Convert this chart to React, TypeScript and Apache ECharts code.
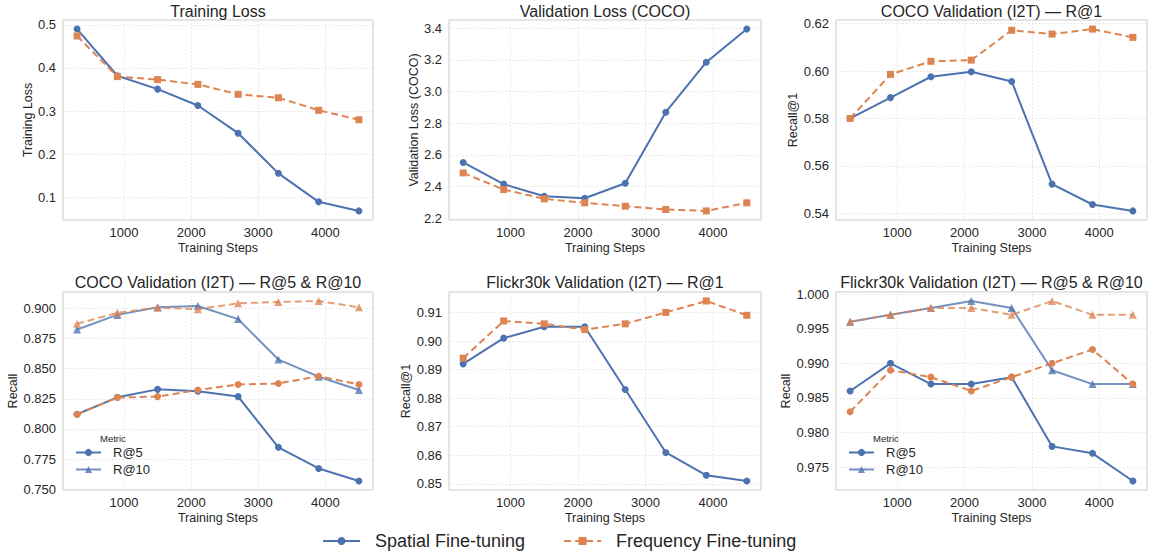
import React, { useEffect, useRef } from 'react';
import * as echarts from 'echarts';

const steps = [300, 900, 1500, 2100, 2700, 3300, 3900, 4500];
const xTicks = [1000, 2000, 3000, 4000];

const trainLossSpatial = [0.490, 0.382, 0.351, 0.313, 0.249, 0.156, 0.090, 0.069];
const trainLossFreq = [0.474, 0.380, 0.373, 0.362, 0.339, 0.331, 0.302, 0.280];
const trainTicks = [0.1, 0.2, 0.3, 0.4, 0.5];

const valLossSpatial = [2.552, 2.415, 2.339, 2.326, 2.421, 2.869, 3.185, 3.394];
const valLossFreq = [2.486, 2.381, 2.322, 2.297, 2.276, 2.255, 2.246, 2.297];
const valTicks = [2.2, 2.4, 2.6, 2.8, 3.0, 3.2, 3.4];

const cocoR1Spatial = [0.580, 0.5888, 0.5976, 0.5997, 0.5956, 0.5523, 0.5437, 0.5410];
const cocoR1Freq = [0.580, 0.5986, 0.6041, 0.6046, 0.6172, 0.6156, 0.6177, 0.6142];
const cocoR1Ticks = [0.54, 0.56, 0.58, 0.60, 0.62];

const cocoR5Spatial = [0.8122, 0.8262, 0.8328, 0.8312, 0.8268, 0.7848, 0.7673, 0.7569];
const cocoR5Freq = [0.8122, 0.8260, 0.8268, 0.8323, 0.8369, 0.8377, 0.8437, 0.8369];
const cocoR10Spatial = [0.8824, 0.8945, 0.9008, 0.9019, 0.8910, 0.8575, 0.8433, 0.8323];
const cocoR10Freq = [0.8871, 0.8962, 0.9005, 0.8992, 0.9041, 0.9052, 0.9060, 0.9008];
const cocoR510Ticks = [0.75, 0.775, 0.8, 0.825, 0.85, 0.875, 0.9];

const flickrR1Spatial = [0.892, 0.901, 0.905, 0.905, 0.883, 0.861, 0.853, 0.851];
const flickrR1Freq = [0.894, 0.907, 0.906, 0.904, 0.906, 0.910, 0.914, 0.909];
const flickrR1Ticks = [0.85, 0.86, 0.87, 0.88, 0.89, 0.90, 0.91];

const flickrR5Spatial = [0.986, 0.990, 0.987, 0.987, 0.988, 0.978, 0.977, 0.973];
const flickrR5Freq = [0.983, 0.989, 0.988, 0.986, 0.988, 0.990, 0.992, 0.987];
const flickrR10Spatial = [0.996, 0.997, 0.998, 0.999, 0.998, 0.989, 0.987, 0.987];
const flickrR10Freq = [0.996, 0.997, 0.998, 0.998, 0.997, 0.999, 0.997, 0.997];
const flickrR510Ticks = [0.975, 0.98, 0.985, 0.99, 0.995, 1.0];

const BLUE = '#4C72B0';
const ORANGE = '#DD8452';
const TEXT = '#262626';
const FONT = '"Liberation Sans", Arial, sans-serif';

function padRange(arrs: number[][]) {
  const all = arrs.flat();
  const mn = Math.min(...all);
  const mx = Math.max(...all);
  const p = (mx - mn) * 0.05;
  return [mn - p, mx + p];
}

const grids = [
  { left: 63, top: 20, width: 310, height: 200 },
  { left: 449, top: 20, width: 312, height: 200 },
  { left: 836, top: 20, width: 311, height: 200 },
  { left: 63, top: 292, width: 310, height: 198 },
  { left: 449, top: 292, width: 312, height: 198 },
  { left: 836, top: 292, width: 311, height: 198 },
];

const panels = [
  { title: 'Training Loss', yName: 'Training Loss', gap: 28, ticks: trainTicks, dec: 1, data: [trainLossSpatial, trainLossFreq] },
  { title: 'Validation Loss (COCO)', yName: 'Validation Loss (COCO)', gap: 29, ticks: valTicks, dec: 1, data: [valLossSpatial, valLossFreq] },
  { title: 'COCO Validation (I2T) — R@1', yName: 'Recall@1', gap: 36, ticks: cocoR1Ticks, dec: 2, data: [cocoR1Spatial, cocoR1Freq] },
  { title: 'COCO Validation (I2T) — R@5 & R@10', yName: 'Recall', gap: 43, ticks: cocoR510Ticks, dec: 3, data: [cocoR5Spatial, cocoR10Spatial, cocoR5Freq, cocoR10Freq] },
  { title: 'Flickr30k Validation (I2T) — R@1', yName: 'Recall@1', gap: 35, ticks: flickrR1Ticks, dec: 2, data: [flickrR1Spatial, flickrR1Freq] },
  { title: 'Flickr30k Validation (I2T) — R@5 & R@10', yName: 'Recall', gap: 44, ticks: flickrR510Ticks, dec: 3, data: [flickrR5Spatial, flickrR10Spatial, flickrR5Freq, flickrR10Freq] },
];

function mkSeries(gi: number, name: string, values: number[], color: string, dashed: boolean, symbol: string, opacity = 1) {
  return {
    type: 'line',
    name,
    xAxisIndex: gi,
    yAxisIndex: gi,
    data: steps.map((s, i) => [s, values[i]]),
    symbol,
    symbolSize: symbol === 'triangle' ? 8 : 7,
    showSymbol: true,
    lineStyle: { color, width: 2, type: dashed ? [7, 4] : 'solid', opacity },
    itemStyle: { color, opacity },
    emphasis: { disabled: true },
    z: dashed ? 3 : 2,
  };
}

export default function App() {
  const ref = useRef<HTMLDivElement>(null);
  useEffect(() => {
    if (!ref.current) return;
    const chart = echarts.init(ref.current, null, { renderer: 'svg' });
    const [xmin, xmax] = padRange([steps]);

    const series: any[] = [];
    panels.forEach((p, gi) => {
      if (p.data.length === 2) {
        series.push(mkSeries(gi, 'Spatial Fine-tuning', p.data[0], BLUE, false, 'circle'));
        series.push(mkSeries(gi, 'Frequency Fine-tuning', p.data[1], ORANGE, true, 'rect'));
      }
    });
    panels.forEach((p, gi) => {
      if (p.data.length === 4) {
        series.push(mkSeries(gi, 'R@5', p.data[0], BLUE, false, 'circle'));
        series.push(mkSeries(gi, 'R@10', p.data[1], BLUE, false, 'triangle', 0.78));
        series.push(mkSeries(gi, 'Frequency Fine-tuning', p.data[2], ORANGE, true, 'circle'));
        series.push(mkSeries(gi, 'Frequency Fine-tuning', p.data[3], ORANGE, true, 'triangle', 0.78));
      }
    });

    const splitLine = { show: true, lineStyle: { color: '#dcdcdc', width: 0.8, type: [1.5, 2] } };
    const metricTitle = (left: number) => ({
      text: 'Metric', left, top: 433, padding: 0,
      textStyle: { fontFamily: FONT, fontSize: 9.5, fontWeight: 'normal', color: TEXT },
    });
    const metricLegend = (left: number) => ({
      data: ['R@5', 'R@10'],
      orient: 'vertical',
      left,
      top: 446,
      padding: 0,
      itemWidth: 25,
      itemHeight: 9,
      itemGap: 4,
      selectedMode: false,
      textStyle: { fontFamily: FONT, fontSize: 13, color: TEXT, padding: [0, 0, 0, 7] },
    });

    const option: any = {
      animation: false,
      backgroundColor: '#ffffff',
      textStyle: { fontFamily: FONT, color: TEXT },
      title: [
        ...panels.map((p, gi) => ({
          text: p.title,
          left: grids[gi].left + grids[gi].width / 2,
          top: gi < 3 ? 3 : 274,
          padding: 0,
          textAlign: 'center',
          textStyle: { fontFamily: FONT, fontSize: 16, fontWeight: 'normal', color: TEXT },
        })),
        metricTitle(100),
        metricTitle(873),
      ],
      grid: grids.map((g) => ({ ...g, show: true, borderColor: '#cccccc', borderWidth: 1, containLabel: false })),
      xAxis: grids.map((g, gi) => ({
        type: 'value',
        gridIndex: gi,
        min: xmin,
        max: xmax,
        name: 'Training Steps',
        nameLocation: 'middle',
        nameGap: 21,
        nameTextStyle: { fontFamily: FONT, fontSize: 12.5, color: TEXT },
        axisLine: { show: false },
        axisTick: { show: false, customValues: xTicks },
        axisLabel: {
          customValues: xTicks, fontFamily: FONT, fontSize: 13, color: TEXT, margin: 6,
          formatter: (v: number) => String(v),
        },
        splitLine,
      })),
      yAxis: panels.map((p, gi) => {
        const [mn, mx] = padRange(p.data);
        return {
          type: 'value',
          gridIndex: gi,
          min: mn,
          max: mx,
          name: p.yName,
          nameLocation: 'middle',
          nameGap: p.gap,
          nameTextStyle: { fontFamily: FONT, fontSize: 12.5, color: TEXT },
          axisLine: { show: false },
          axisTick: { show: false, customValues: p.ticks },
          axisLabel: {
            customValues: p.ticks,
            fontFamily: FONT,
            fontSize: 13,
            color: TEXT,
            margin: 7,
            formatter: (v: number) => v.toFixed(p.dec),
          },
          splitLine,
        };
      }),
      legend: [
        {
          data: ['Spatial Fine-tuning', 'Frequency Fine-tuning'],
          left: 322,
          top: 532,
          padding: 0,
          itemWidth: 37,
          itemHeight: 10,
          itemGap: 38,
          selectedMode: false,
          textStyle: { fontFamily: FONT, fontSize: 18, color: TEXT, padding: [0, 0, 0, 10] },
        },
        metricLegend(75),
        metricLegend(848),
      ],
      series,
    };
    chart.setOption(option);
    return () => chart.dispose();
  }, []);
  return <div ref={ref} style={{ position: 'fixed', left: 0, top: 0, width: 1153, height: 555 }} />;
}
